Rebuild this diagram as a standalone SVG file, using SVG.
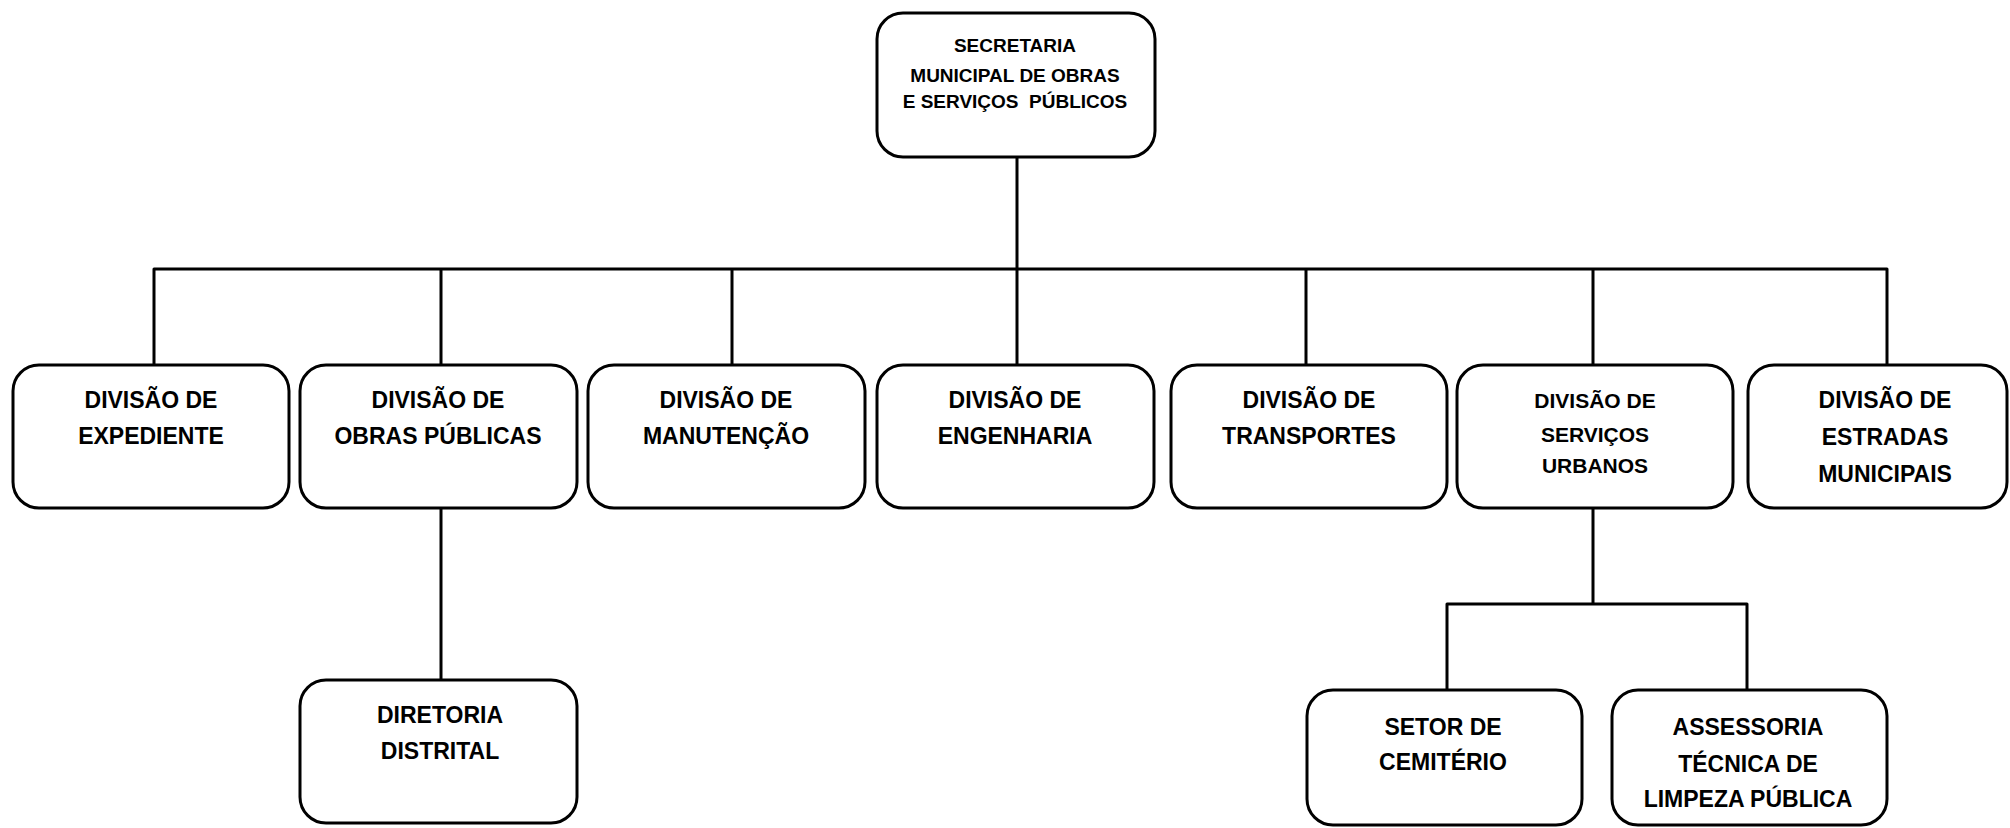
<svg xmlns="http://www.w3.org/2000/svg" width="2010" height="828" viewBox="0 0 2010 828">
<style>
.box{fill:#fff;stroke:#000;stroke-width:3}
.t{font-family:"Liberation Sans",Arial,sans-serif;font-weight:bold;font-size:23px;fill:#000;text-anchor:middle}
.s{font-size:21px}
.top{font-size:19px}
.ln{fill:none;stroke:#000;stroke-width:3;stroke-linejoin:round}
</style>
<rect width="2010" height="828" fill="#fff"/>
<g id="connectors">
<path class="ln" d="M1017 157V269M154 365V269H1887V365M441 269V365M732 269V365M1017 269V365M1306 269V365M1593 269V365"/>
<path class="ln" d="M441 508V680"/>
<path class="ln" d="M1593 508V604M1447 690V604H1747V690"/>
</g>
<g id="secretaria">
<rect class="box" x="877" y="13" width="278" height="144" rx="26"/>
<text class="t top" x="1015" y="52">SECRETARIA</text>
<text class="t top" x="1015" y="82">MUNICIPAL DE OBRAS</text>
<text class="t top" x="1015" y="108" xml:space="preserve">E SERVIÇOS  PÚBLICOS</text>
</g>
<g id="expediente">
<rect class="box" x="13" y="365" width="276" height="143" rx="26"/>
<text class="t" x="151" y="408">DIVISÃO DE</text>
<text class="t" x="151" y="444">EXPEDIENTE</text>
</g>
<g id="obras">
<rect class="box" x="300" y="365" width="277" height="143" rx="26"/>
<text class="t" x="438" y="408">DIVISÃO DE</text>
<text class="t" x="438" y="444">OBRAS PÚBLICAS</text>
</g>
<g id="manutencao">
<rect class="box" x="588" y="365" width="277" height="143" rx="26"/>
<text class="t" x="726" y="408">DIVISÃO DE</text>
<text class="t" x="726" y="444">MANUTENÇÃO</text>
</g>
<g id="engenharia">
<rect class="box" x="877" y="365" width="277" height="143" rx="26"/>
<text class="t" x="1015" y="408">DIVISÃO DE</text>
<text class="t" x="1015" y="444">ENGENHARIA</text>
</g>
<g id="transportes">
<rect class="box" x="1171" y="365" width="276" height="143" rx="26"/>
<text class="t" x="1309" y="408">DIVISÃO DE</text>
<text class="t" x="1309" y="444">TRANSPORTES</text>
</g>
<g id="servicos">
<rect class="box" x="1457" y="365" width="276" height="143" rx="26"/>
<text class="t s" x="1595" y="408">DIVISÃO DE</text>
<text class="t s" x="1595" y="442">SERVIÇOS</text>
<text class="t s" x="1595" y="473">URBANOS</text>
</g>
<g id="estradas">
<rect class="box" x="1748" y="365" width="259" height="143" rx="26"/>
<text class="t" x="1885" y="408">DIVISÃO DE</text>
<text class="t" x="1885" y="445">ESTRADAS</text>
<text class="t" x="1885" y="482">MUNICIPAIS</text>
</g>
<g id="diretoria">
<rect class="box" x="300" y="680" width="277" height="143" rx="26"/>
<text class="t" x="440" y="723">DIRETORIA</text>
<text class="t" x="440" y="759">DISTRITAL</text>
</g>
<g id="cemiterio">
<rect class="box" x="1307" y="690" width="275" height="135" rx="26"/>
<text class="t" x="1443" y="735">SETOR DE</text>
<text class="t" x="1443" y="770">CEMITÉRIO</text>
</g>
<g id="limpeza">
<rect class="box" x="1612" y="690" width="275" height="135" rx="26"/>
<text class="t" x="1748" y="735">ASSESSORIA</text>
<text class="t" x="1748" y="772">TÉCNICA DE</text>
<text class="t" x="1748" y="807">LIMPEZA PÚBLICA</text>
</g>
</svg>
